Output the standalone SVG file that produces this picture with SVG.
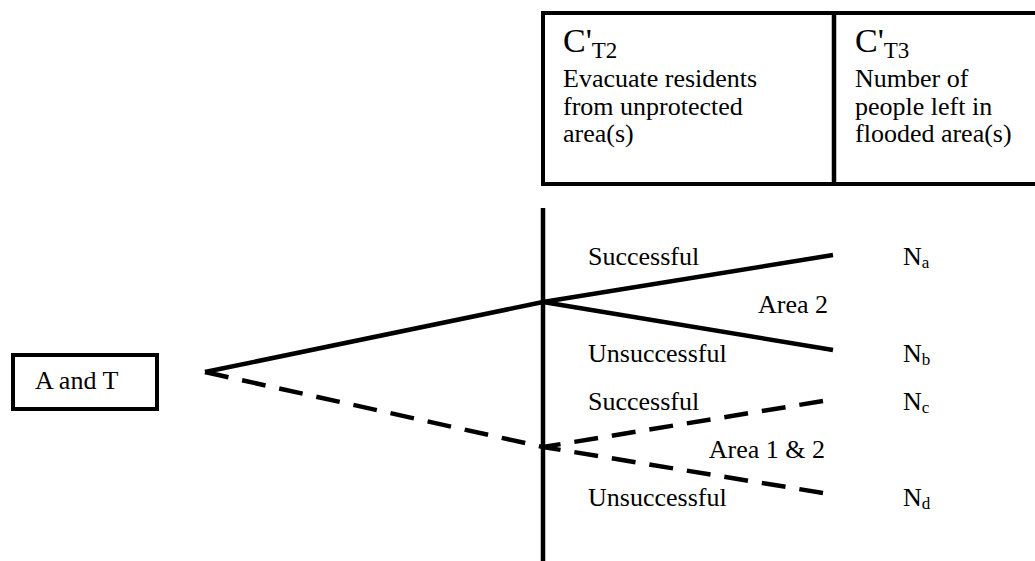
<svg xmlns="http://www.w3.org/2000/svg" width="1035" height="561" viewBox="0 0 1035 561">
<style>
text{font-family:"Liberation Serif","DejaVu Serif",serif;fill:#000;font-size:26px}
.big{font-size:34px}
.sub{font-size:23px}
.box{fill:#fff;stroke:#000;stroke-width:4}
.ln{stroke:#000;stroke-width:4.5;fill:none;stroke-linecap:butt}
.dash{stroke-dasharray:24 14}
</style>
<rect width="1035" height="561" fill="#fff"/>
<g id="header">
<rect class="box" x="543" y="13" width="500" height="171"/>
<line class="ln" x1="834" y1="13" x2="834" y2="184"/>
<text x="563" y="52"><tspan class="big">C'</tspan><tspan class="sub" dy="6">T2</tspan></text>
<text x="563" y="87">Evacuate residents</text>
<text x="563" y="115">from unprotected</text>
<text x="563" y="142">area(s)</text>
<text x="855" y="52"><tspan class="big">C'</tspan><tspan class="sub" dy="6">T3</tspan></text>
<text x="855" y="87">Number of</text>
<text x="855" y="115">people left in</text>
<text x="855" y="142">flooded area(s)</text>
</g>
<g id="start">
<rect class="box" x="13" y="355" width="144" height="54"/>
<text x="35" y="389">A and T</text>
</g>
<g id="connectors">
<line class="ln" x1="543" y1="208" x2="543" y2="561"/>
<line class="ln" x1="205" y1="372" x2="543" y2="302"/>
<line class="ln" x1="543" y1="302" x2="833" y2="255"/>
<line class="ln" x1="543" y1="302" x2="833" y2="350"/>
<line class="ln dash" x1="205" y1="372" x2="543" y2="447"/>
<line class="ln dash" x1="823" y1="401" x2="543" y2="447"/>
<line class="ln dash" x1="823" y1="493" x2="543" y2="447"/>
</g>
<g id="labels">
<text x="588" y="265">Successful</text>
<text x="828" y="313" text-anchor="end">Area 2</text>
<text x="588" y="362">Unsuccessful</text>
<text x="588" y="410">Successful</text>
<text x="825" y="458" text-anchor="end">Area 1 &amp; 2</text>
<text x="588" y="506">Unsuccessful</text>
</g>
<g id="outcomes">
<text x="903" y="265">N<tspan font-size="17" dy="3">a</tspan></text>
<text x="903" y="362">N<tspan font-size="17" dy="3">b</tspan></text>
<text x="903" y="410">N<tspan font-size="17" dy="3">c</tspan></text>
<text x="903" y="506">N<tspan font-size="17" dy="3">d</tspan></text>
</g>
</svg>
